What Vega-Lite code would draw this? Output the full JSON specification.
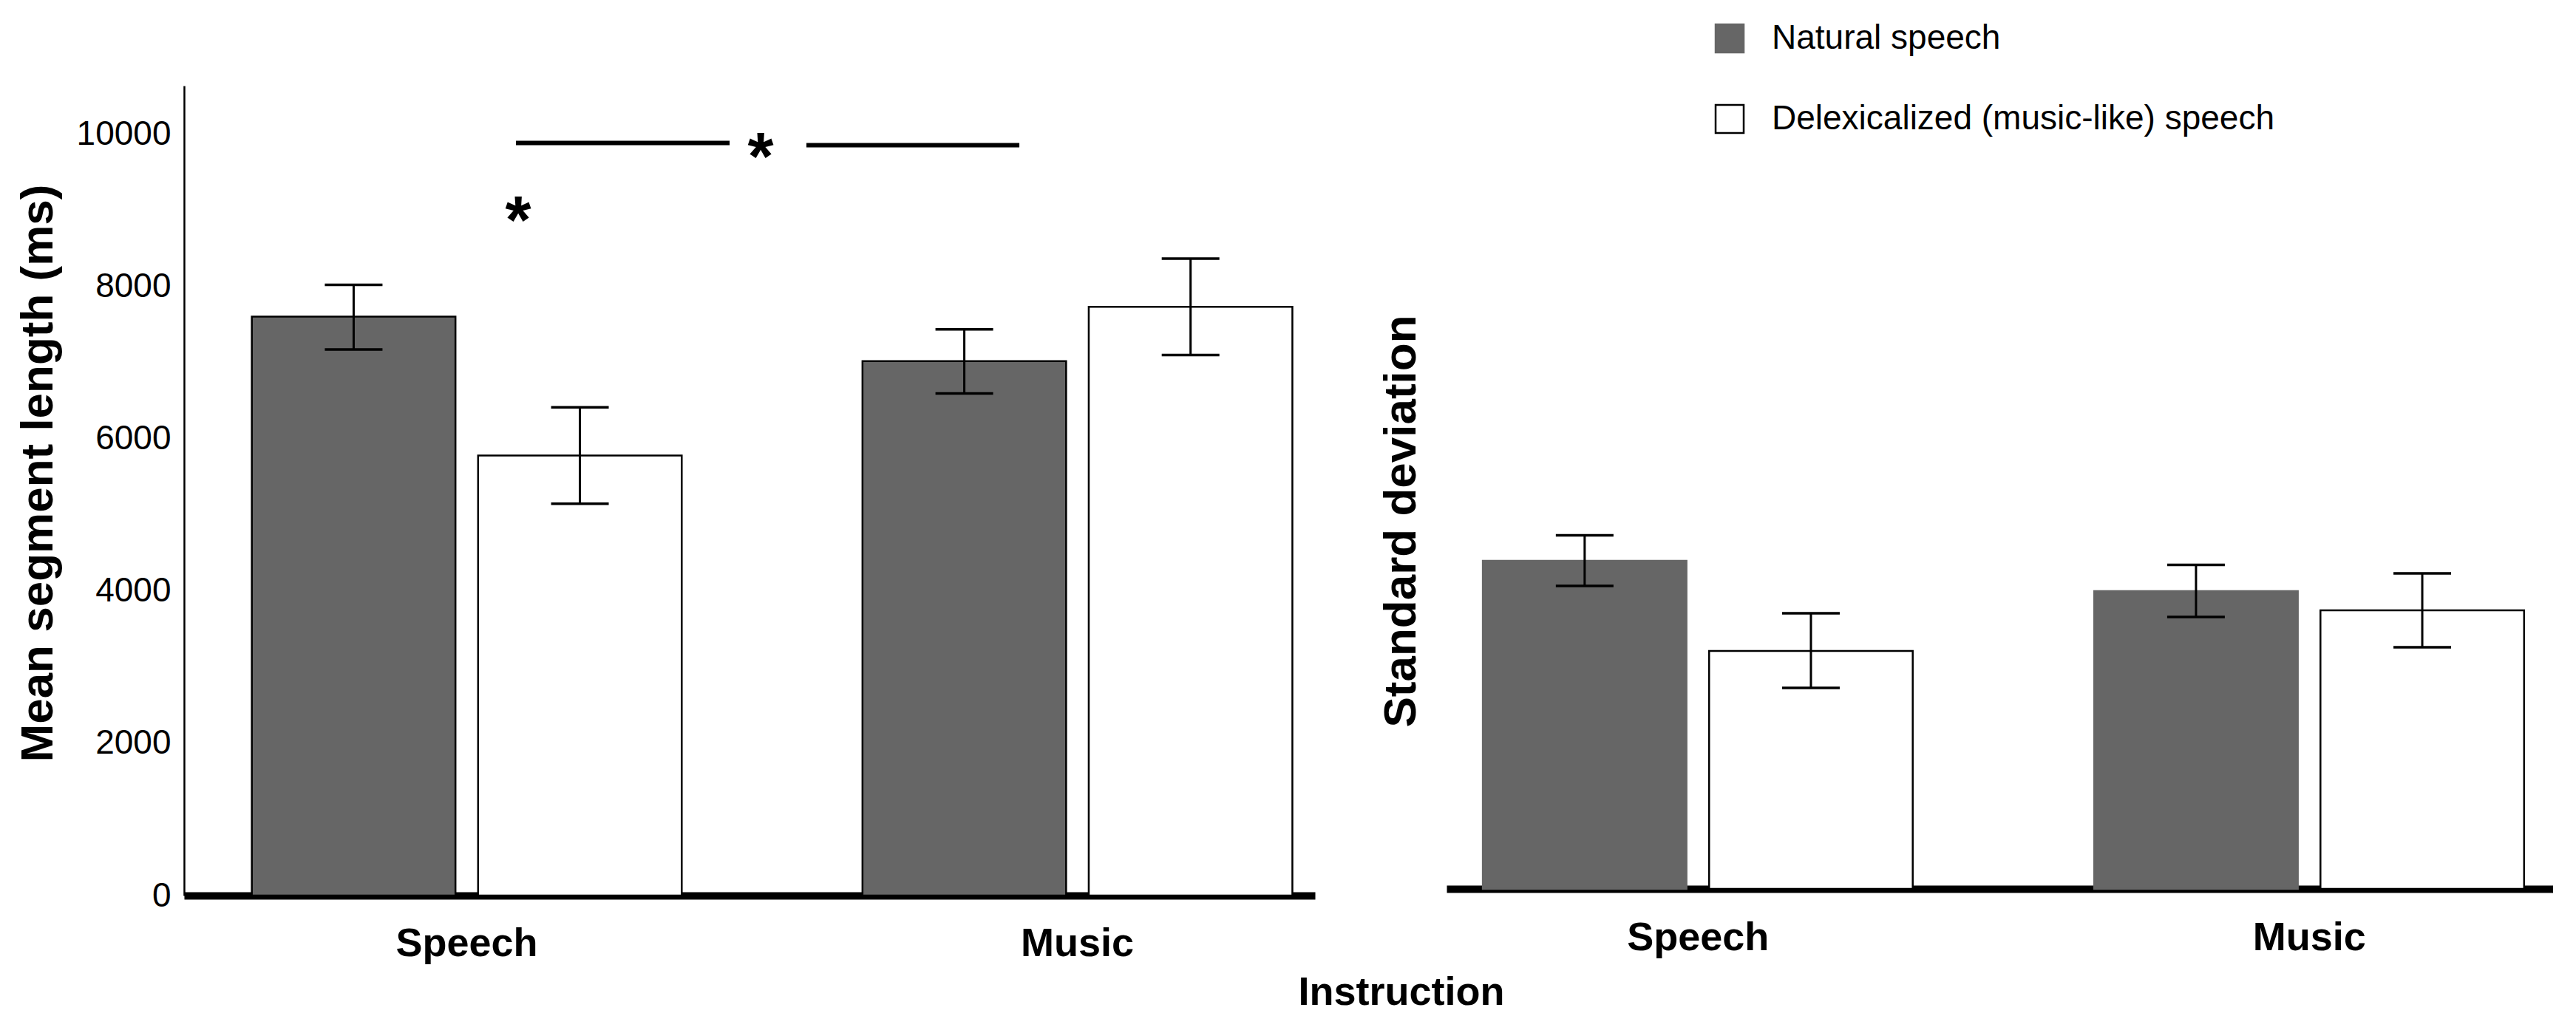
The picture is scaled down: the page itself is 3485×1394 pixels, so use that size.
{
  "$schema": "https://vega.github.io/schema/vega-lite/v6.json",
  "background": "white",
  "padding": {"left": 20, "top": 29, "right": 0, "bottom": 0},
  "config": {
    "view": {"stroke": null},
    "font": "Liberation Sans",
    "axis": {"grid": false, "ticks": false, "labelLimit": 0, "labelFont": "Liberation Sans", "titleFont": "Liberation Sans", "labelColor": "black", "titleColor": "black"},
    "legend": {"labelLimit": 0}
  },
  "datasets": {
    "mean": [
      {"Instruction": "Speech", "Speech type": "Natural speech", "value": 7607, "low": 7175, "high": 8023},
      {"Instruction": "Speech", "Speech type": "Delexicalized (music-like) speech", "value": 5781, "low": 5148, "high": 6414},
      {"Instruction": "Music", "Speech type": "Natural speech", "value": 7022, "low": 6597, "high": 7439},
      {"Instruction": "Music", "Speech type": "Delexicalized (music-like) speech", "value": 7735, "low": 7102, "high": 8369}
    ],
    "sd": [
      {"Instruction": "Speech", "Speech type": "Natural speech", "value": 4311, "low": 3981, "high": 4646},
      {"Instruction": "Speech", "Speech type": "Delexicalized (music-like) speech", "value": 3126, "low": 2641, "high": 3621},
      {"Instruction": "Music", "Speech type": "Natural speech", "value": 3913, "low": 3573, "high": 4257},
      {"Instruction": "Music", "Speech type": "Delexicalized (music-like) speech", "value": 3660, "low": 3175, "high": 4146}
    ],
    "sig_lines": [
      {"from": 2.935, "to": 4.824, "y": 9887},
      {"from": 5.503, "to": 7.386, "y": 9858}
    ],
    "sig_marks": [
      {"pos": 5.098, "y": 9410, "label": "*"},
      {"pos": 2.954, "y": 8575, "label": "*"}
    ]
  },
  "title": {
    "text": "Instruction",
    "orient": "bottom",
    "anchor": "middle",
    "font": "Liberation Sans",
    "fontSize": 54,
    "fontWeight": "bold",
    "color": "black",
    "offset": 13,
    "dx": 159
  },
  "spacing": 85,
  "hconcat": [
    {
      "width": 1530,
      "height": 1096,
      "layer": [
        {
          "data": {"name": "mean"},
          "encoding": {
            "x": {
              "field": "Instruction", "type": "nominal", "sort": ["Speech", "Music"],
              "scale": {"paddingInner": 0.296, "paddingOuter": 0.074, "align": 0.75},
              "axis": {"title": null, "labelAngle": 0, "labelFontSize": 54, "labelFontWeight": "bold", "labelPadding": 38, "domainColor": "black", "domainWidth": 10}
            },
            "xOffset": {
              "field": "Speech type", "type": "nominal",
              "sort": ["Natural speech", "Delexicalized (music-like) speech"],
              "scale": {"paddingInner": 0.1, "paddingOuter": 0}
            }
          },
          "layer": [
            {
              "mark": {"type": "bar", "stroke": "black", "strokeWidth": 2.5},
              "encoding": {
                "y": {
                  "field": "value", "type": "quantitative",
                  "scale": {"domain": [0, 10640], "nice": false},
                  "axis": {"title": "Mean segment length (ms)", "values": [0, 2000, 4000, 6000, 8000, 10000], "format": "d", "labelFontSize": 46, "labelPadding": 18, "titleFontSize": 62, "titleFontWeight": "bold", "titlePadding": 20, "titleY": 524, "domainColor": "black", "domainWidth": 2.5}
                },
                "fill": {
                  "field": "Speech type", "type": "nominal",
                  "sort": ["Natural speech", "Delexicalized (music-like) speech"],
                  "scale": {"domain": ["Natural speech", "Delexicalized (music-like) speech"], "range": ["#666666", "#ffffff"]},
                  "legend": {"title": null, "orient": "none", "legendX": 2068, "legendY": -87, "padding": 0, "labelFont": "Liberation Sans", "labelFontSize": 46, "labelColor": "black", "labelLimit": 0, "symbolType": "square", "symbolSize": 1444, "symbolStrokeWidth": 2.5, "labelOffset": 34, "rowPadding": 61}
                }
              }
            },
            {
              "mark": {"type": "rule", "color": "black", "strokeWidth": 3},
              "encoding": {"y": {"field": "low", "type": "quantitative"}, "y2": {"field": "high"}}
            },
            {
              "mark": {"type": "tick", "color": "black", "thickness": 3.5, "size": 78, "opacity": 1},
              "encoding": {"y": {"field": "low", "type": "quantitative"}}
            },
            {
              "mark": {"type": "tick", "color": "black", "thickness": 3.5, "size": 78, "opacity": 1},
              "encoding": {"y": {"field": "high", "type": "quantitative"}}
            }
          ]
        },
        {
          "data": {"name": "sig_lines"},
          "mark": {"type": "rule", "color": "black", "strokeWidth": 6},
          "encoding": {
            "x": {"field": "from", "type": "quantitative", "scale": {"domain": [0, 10], "nice": false}, "axis": null},
            "x2": {"field": "to"},
            "y": {"field": "y", "type": "quantitative"}
          }
        },
        {
          "data": {"name": "sig_marks"},
          "mark": {"type": "text", "font": "Liberation Sans", "fontWeight": "bold", "fontSize": 90, "baseline": "alphabetic", "align": "center", "color": "black"},
          "encoding": {
            "x": {"field": "pos", "type": "quantitative", "scale": {"domain": [0, 10], "nice": false}, "axis": null},
            "y": {"field": "y", "type": "quantitative"},
            "text": {"field": "label"}
          }
        }
      ],
      "resolve": {"scale": {"x": "independent"}}
    },
    {
      "width": 1497,
      "height": 1087,
      "data": {"name": "sd"},
      "encoding": {
        "x": {
          "field": "Instruction", "type": "nominal", "sort": ["Speech", "Music"],
          "scale": {"paddingInner": 0.296, "paddingOuter": 0.053, "align": 0.56},
          "axis": {"title": null, "labelAngle": 0, "labelFontSize": 54, "labelFontWeight": "bold", "labelPadding": 39, "domainColor": "black", "domainWidth": 10}
        },
        "xOffset": {
          "field": "Speech type", "type": "nominal",
          "sort": ["Natural speech", "Delexicalized (music-like) speech"],
          "scale": {"paddingInner": 0.1, "paddingOuter": 0}
        }
      },
      "layer": [
        {
          "mark": {"type": "bar", "strokeWidth": 2.5},
          "encoding": {
            "y": {
              "field": "value", "type": "quantitative",
              "scale": {"domain": [0, 10553], "nice": false},
              "axis": {"title": "Standard deviation", "labels": false, "domain": false, "titleFontSize": 62, "titleFontWeight": "bold", "titlePadding": 30, "titleY": 589}
            },
            "fill": {"field": "Speech type", "type": "nominal", "sort": ["Natural speech", "Delexicalized (music-like) speech"]},
            "stroke": {
              "field": "Speech type", "type": "nominal",
              "sort": ["Natural speech", "Delexicalized (music-like) speech"],
              "scale": {"domain": ["Natural speech", "Delexicalized (music-like) speech"], "range": ["#666666", "#000000"]},
              "legend": {"title": null, "orient": "none", "legendX": 2068, "legendY": -87, "padding": 0, "labelFont": "Liberation Sans", "labelFontSize": 46, "labelColor": "black", "labelLimit": 0, "symbolType": "square", "symbolSize": 1444, "symbolStrokeWidth": 2.5, "labelOffset": 34, "rowPadding": 61}
            }
          }
        },
        {
          "mark": {"type": "rule", "color": "black", "strokeWidth": 3},
          "encoding": {"y": {"field": "low", "type": "quantitative"}, "y2": {"field": "high"}}
        },
        {
          "mark": {"type": "tick", "color": "black", "thickness": 3.5, "size": 78, "opacity": 1},
          "encoding": {"y": {"field": "low", "type": "quantitative"}}
        },
        {
          "mark": {"type": "tick", "color": "black", "thickness": 3.5, "size": 78, "opacity": 1},
          "encoding": {"y": {"field": "high", "type": "quantitative"}}
        }
      ]
    }
  ]
}
